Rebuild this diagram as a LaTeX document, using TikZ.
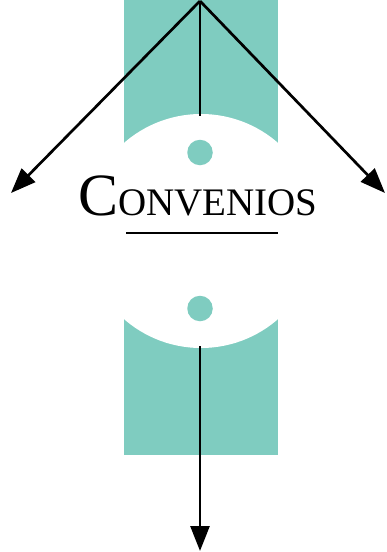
\documentclass[tikz,border=0pt]{standalone}
\usepackage{fontspec}
\setmainfont{Liberation Serif}
\usetikzlibrary{arrows.meta}
\definecolor{teal1}{RGB}{127,204,192}
\begin{document}
\begin{tikzpicture}[x=1pt,y=-1pt,
  conn/.style={line width=2.7pt},
  arr/.style={conn,-{Triangle[length=25pt,width=19pt]}},
  dot/.style={circle,fill=teal1,minimum size=25.5pt,inner sep=0pt}]
\useasboundingbox (0,0) rectangle (386,552);
\fill[teal1] (124,0) rectangle (278,455);
\fill[white] (201,231) circle[radius=117];
\node[dot] (dot1) at (200,152.5) {};
\node[dot] (dot2) at (200,308.5) {};
\node[anchor=base,inner sep=0pt] (title) at (198,215)
  {\fontsize{60}{60}\selectfont C\fontsize{39}{39}\selectfont ONVENIOS};
\coordinate (ulL) at (126,233);
\coordinate (ulR) at (278,233);
\draw[conn] (ulL) -- (ulR);
\coordinate (apex) at (200,1);
\coordinate (ltip) at (11,193);
\coordinate (rtip) at (385,193);
\coordinate (arctop) at (200,116);
\coordinate (arcbot) at (200,346);
\coordinate (btip) at (200,551);
\draw[arr] (apex) -- (ltip);
\draw[arr] (apex) -- (rtip);
\draw[conn] (apex) -- (arctop);
\draw[arr] (arcbot) -- (btip);
\end{tikzpicture}
\end{document}
